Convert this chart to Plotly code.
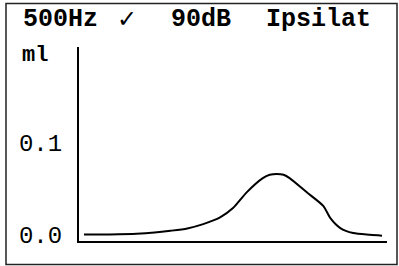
import plotly.graph_objects as go

# Data (time in arbitrary units, response in ml)
time_s = [0.00, 0.26, 0.53, 0.71, 0.87, 1.04, 1.20, 1.37, 1.50, 1.64, 1.80,
          1.87, 1.94, 2.01, 2.07, 2.24, 2.41, 2.48, 2.58, 2.71, 2.88, 3.00]
volume_ml = [0.0000, 0.0002, 0.0009, 0.0022, 0.0041, 0.0067, 0.0114, 0.0187,
             0.0288, 0.0462, 0.0614, 0.0650, 0.0660, 0.0650, 0.0614, 0.0462,
             0.0310, 0.0179, 0.0071, 0.0016, -0.0003, -0.0013]
y_tickvals = [0.0, 0.1]
y_ticktext = ["0.0", "0.1"]
title_parts = ["500Hz", "\u2713", "90dB", "Ipsilat"]
y_unit = "ml"

W, H = 399, 266
ML, MR, MT, MB = 79, 12, 47, 25
PW, PH = W - ML - MR, H - MT - MB


def px(x):
    return (x - ML) / PW


def py(y):
    return (H - MB - y) / PH


MONO = "Courier New, Liberation Mono, monospace"

fig = go.Figure()
fig.add_trace(go.Scatter(x=time_s, y=volume_ml, mode="lines",
                         line=dict(color="black", width=2, shape="spline",
                                   smoothing=0.7),
                         hoverinfo="skip", showlegend=False))

fig.update_layout(
    width=W, height=H,
    margin=dict(l=ML, r=MR, t=MT, b=MB, pad=0),
    paper_bgcolor="white", plot_bgcolor="white",
    xaxis=dict(range=[-0.05, 3.05], showgrid=False, zeroline=False,
               showticklabels=False, ticks="", showline=True,
               linecolor="black", linewidth=2),
    yaxis=dict(range=[-0.007, 0.204], showgrid=False, zeroline=False,
               tickvals=y_tickvals, ticktext=y_ticktext, ticks="",
               ticklabelstandoff=10,
               tickfont=dict(family=MONO, size=24, color="black"),
               showline=True, linecolor="black", linewidth=2),
)

# Outer frame
fig.add_shape(type="rect", xref="paper", yref="paper",
              x0=px(6), x1=px(397), y0=py(264.5), y1=py(3.5),
              line=dict(color="#222222", width=1.5))

# Title parts
title_x = [21, 115, 169, 264]
for txt, x in zip(title_parts, title_x):
    is_check = txt == "\u2713"
    fig.add_annotation(text=txt, x=px(x), y=py(19), xref="paper", yref="paper",
                       xanchor="left", yanchor="middle", showarrow=False,
                       font=dict(family="DejaVu Sans" if is_check else MONO,
                                 size=24 if is_check else 25,
                                 color="black",
                                 weight="normal" if is_check else "bold"))

fig.add_annotation(text=y_unit, x=px(20), y=py(56), xref="paper", yref="paper",
                   xanchor="left", yanchor="middle", showarrow=False,
                   font=dict(family=MONO, size=22, color="black", weight="bold"))

fig.write_html("out.html", config={"displayModeBar": False},
               post_script="document.body.style.margin='0';"
                           "document.body.style.overflow='hidden';")
